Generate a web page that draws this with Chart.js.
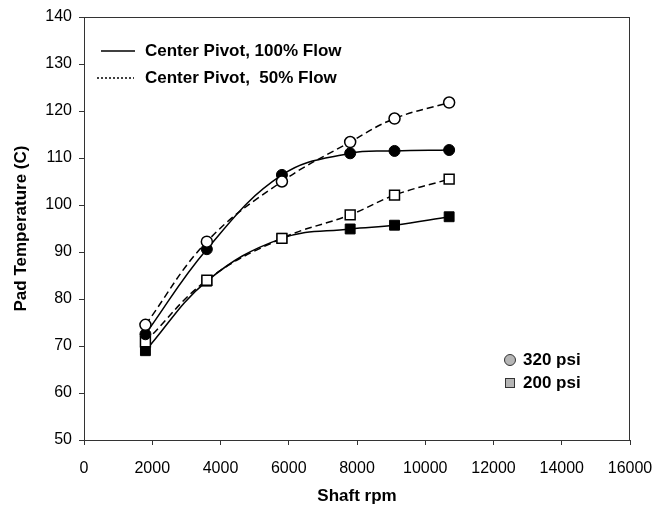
<!DOCTYPE html>
<html>
<head>
<meta charset="utf-8">
<script src="https://cdn.jsdelivr.net/npm/chart.js@4.4.0/dist/chart.umd.min.js"></script>
<style>
  html, body { margin: 0; padding: 0; background: #fff; }
  #wrap { width: 658px; height: 509px; }
</style>
</head>
<body>
<div id="wrap"><canvas id="padChart" width="658" height="509"></canvas></div>
<script>
// shaft speed (rpm) for every test point
const rpm = [1800, 3600, 5800, 7800, 9100, 10700];

// pad temperature (C)
const temp320Full = [72.5, 90.6, 106.4, 111.0, 111.5, 111.7];
const temp320Half = [74.5, 92.2, 105.0, 113.4, 118.4, 121.8];
const temp200Full = [69.0, 83.8, 92.9, 94.9, 95.7, 97.5];
const temp200Half = [70.9, 84.0, 92.9, 97.9, 102.1, 105.5];

const xTicks = [0, 2000, 4000, 6000, 8000, 10000, 12000, 14000, 16000];
const yTicks = [50, 60, 70, 80, 90, 100, 110, 120, 130, 140];

const FONT = "'Liberation Sans', Arial, sans-serif";

function points(values) {
  return rpm.map((r, i) => ({ x: r, y: values[i] }));
}

// box round the plot area plus the two hand placed legends
const extras = {
  id: 'extras',
  afterDraw(chart) {
    const { ctx, chartArea: a } = chart;
    ctx.save();
    ctx.strokeStyle = '#333';
    ctx.lineWidth = 1;
    ctx.strokeRect(a.left + 0.5, a.top + 0.5, a.right - a.left - 1, a.bottom - a.top);

    // flow legend
    ctx.strokeStyle = '#000';
    ctx.lineWidth = 1.5;
    ctx.beginPath();
    ctx.moveTo(101, 51); ctx.lineTo(135, 51);
    ctx.stroke();
    ctx.setLineDash([2, 2]);
    ctx.beginPath();
    ctx.moveTo(97, 78); ctx.lineTo(134, 78);
    ctx.stroke();
    ctx.setLineDash([]);

    ctx.fillStyle = '#000';
    ctx.font = 'bold 17px ' + FONT;
    ctx.textBaseline = 'middle';
    ctx.fillText('Center Pivot, 100% Flow', 145, 51);
    ctx.fillText('Center Pivot,  50% Flow', 145, 78);

    // pressure legend
    ctx.lineWidth = 1;
    ctx.fillStyle = '#b5b5b5';
    ctx.strokeStyle = '#333';
    ctx.beginPath();
    ctx.arc(510, 360, 5.5, 0, Math.PI * 2);
    ctx.fill(); ctx.stroke();
    ctx.fillRect(505, 378, 10, 10);
    ctx.strokeRect(505.5, 378.5, 9, 9);

    ctx.fillStyle = '#000';
    ctx.fillText('320 psi', 523, 360);
    ctx.fillText('200 psi', 523, 383);
    ctx.restore();
  }
};

const ctx = document.getElementById('padChart').getContext('2d');
new Chart(ctx, {
  type: 'line',
  data: {
    datasets: [
      {
        label: '320 psi, 50% Flow',
        data: points(temp320Half),
        borderColor: '#000', borderWidth: 1.5, borderDash: [7, 4],
        pointStyle: 'circle', pointRadius: 5.5,
        pointBackgroundColor: '#fff', pointBorderColor: '#000', pointBorderWidth: 1.5,
        tension: 0.4, fill: false
      },
      {
        label: '320 psi, 100% Flow',
        data: points(temp320Full),
        borderColor: '#000', borderWidth: 1.5,
        pointStyle: 'circle', pointRadius: 5.5,
        pointBackgroundColor: '#000', pointBorderColor: '#000', pointBorderWidth: 1,
        tension: 0.4, fill: false
      },
      {
        label: '200 psi, 50% Flow',
        data: points(temp200Half),
        borderColor: '#000', borderWidth: 1.5, borderDash: [7, 4],
        pointStyle: 'rect', pointRadius: 7,
        pointBackgroundColor: '#fff', pointBorderColor: '#000', pointBorderWidth: 1.5,
        tension: 0.4, fill: false
      },
      {
        label: '200 psi, 100% Flow',
        data: points(temp200Full),
        borderColor: '#000', borderWidth: 1.5,
        pointStyle: 'rect', pointRadius: 7,
        pointBackgroundColor: '#000', pointBorderColor: '#000', pointBorderWidth: 1,
        tension: 0.4, fill: false
      }
    ]
  },
  options: {
    responsive: false,
    animation: false,
    layout: { padding: { left: 0, top: 17, right: 28, bottom: 0 } },
    plugins: {
      legend: { display: false },
      tooltip: { enabled: false }
    },
    scales: {
      x: {
        type: 'linear',
        min: 0, max: 16000,
        afterFit(scale) { scale.height = 69; scale.paddingRight = 0; },
        afterBuildTicks(scale) { scale.ticks = xTicks.map(v => ({ value: v })); },
        grid: { drawOnChartArea: false, tickLength: 5, color: '#333' },
        border: { color: '#333' },
        ticks: {
          padding: 14, color: '#000', font: { family: FONT, size: 16 },
          callback: v => String(v)
        },
        title: {
          display: true, text: 'Shaft rpm', color: '#000',
          padding: { top: 0, bottom: 2 },
          font: { family: FONT, size: 17, weight: 'bold' }
        }
      },
      y: {
        min: 50, max: 140,
        afterFit(scale) { scale.width = 84; },
        afterBuildTicks(scale) { scale.ticks = yTicks.map(v => ({ value: v })); },
        grid: { drawOnChartArea: false, tickLength: 5, color: '#333' },
        border: { color: '#333' },
        ticks: { padding: 7, color: '#000', font: { family: FONT, size: 16 } },
        title: {
          display: true, text: 'Pad Temperature (C)', color: '#000',
          padding: { top: 11, bottom: 0 },
          font: { family: FONT, size: 17, weight: 'bold' }
        }
      }
    }
  },
  plugins: [extras]
});
</script>
</body>
</html>
